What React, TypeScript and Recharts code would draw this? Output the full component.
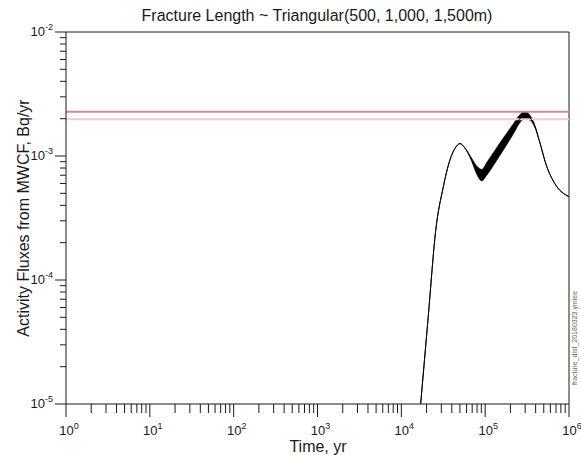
import { ComposedChart, Line, Area, XAxis, YAxis, ReferenceLine } from 'recharts'

// time (yr) and activity flux (Bq/yr)
const times = [17000, 20900, 25700, 31600, 38000, 43600, 50100, 56200, 69200, 79400, 91200, 104700, 125900, 151400, 182000, 218800, 257000, 295100, 342800, 393600, 446700, 537000, 676000, 1000000]
const flux = [1.0e-5, 5.0e-5, 2.5e-4, 5.6e-4, 9.3e-4, 1.15e-3, 1.26e-3, 1.18e-3, 9.3e-4, 7.7e-4, 7.0e-4, 7.9e-4, 9.5e-4, 1.15e-3, 1.38e-3, 1.67e-3, 1.98e-3, 2.14e-3, 2.03e-3, 1.72e-3, 1.3e-3, 8.4e-4, 6.0e-4, 4.7e-4]
// spread of the realisations (thick black band)
const fluxLow = [1.0e-5, 5.0e-5, 2.5e-4, 5.6e-4, 9.3e-4, 1.15e-3, 1.26e-3, 1.18e-3, 9.0e-4, 7.1e-4, 6.3e-4, 7.0e-4, 8.4e-4, 1.02e-3, 1.24e-3, 1.52e-3, 1.84e-3, 2.0e-3, 1.94e-3, 1.68e-3, 1.3e-3, 8.4e-4, 6.0e-4, 4.7e-4]
const fluxHigh = [1.0e-5, 5.0e-5, 2.5e-4, 5.6e-4, 9.3e-4, 1.15e-3, 1.26e-3, 1.18e-3, 9.6e-4, 8.3e-4, 7.8e-4, 8.9e-4, 1.07e-3, 1.29e-3, 1.54e-3, 1.84e-3, 2.14e-3, 2.28e-3, 2.13e-3, 1.76e-3, 1.3e-3, 8.4e-4, 6.0e-4, 4.7e-4]

const limitUpper = 2.27e-3
const limitLower = 1.98e-3

const xDecades = [0, 1, 2, 3, 4, 5, 6]
const yDecades = [-5, -4, -3, -2]
const minorSteps = [2, 3, 4, 5, 6, 7, 8, 9]

const data = times.map((t, i) => ({ t, flux: flux[i], band: [fluxLow[i], fluxHigh[i]] }))

const xTicks = [
  ...xDecades.map((d) => Math.pow(10, d)),
  ...xDecades.slice(0, -1).flatMap((d) => minorSteps.map((m) => m * Math.pow(10, d))),
]
const yTicks = [
  ...yDecades.map((d) => Math.pow(10, d)),
  ...yDecades.slice(0, -1).flatMap((d) => minorSteps.map((m) => m * Math.pow(10, d))),
]

const font = "'Liberation Sans', Arial, sans-serif"
const ink = '#1a1a1a'

const isMajor = (v: number) => {
  const e = Math.log10(v)
  return Math.abs(e - Math.round(e)) < 1e-6
}

function XTick({ x, y, payload }: any) {
  const v = payload.value
  const major = isMajor(v)
  return (
    <g>
      <line x1={x} x2={x} y1={y} y2={y + (major ? 13 : 9)} stroke={ink} strokeWidth={1} />
      {major && (
        <text x={x + 3} y={y + 31} textAnchor="middle" fontSize={13} fill={ink} fontFamily={font}>
          10
          <tspan dy={-6} fontSize={9}>
            {Math.round(Math.log10(v))}
          </tspan>
        </text>
      )}
    </g>
  )
}

function YTick({ x, y, payload }: any) {
  const v = payload.value
  const major = isMajor(v)
  return (
    <g>
      <line x1={x - (major ? 11 : 6)} x2={x} y1={y} y2={y} stroke={ink} strokeWidth={1} />
      {major && (
        <text x={x - 13} y={y + 4} textAnchor="end" fontSize={13} fill={ink} fontFamily={font}>
          10
          <tspan dy={-6} fontSize={9}>
            {Math.round(Math.log10(v))}
          </tspan>
        </text>
      )}
    </g>
  )
}

export default function App() {
  return (
    <div style={{ position: 'absolute', left: 0, top: 0, width: 581, height: 455, background: '#fff' }}>
      <ComposedChart width={581} height={455} data={data} margin={{ top: 32, right: 12, bottom: 0, left: 0 }}>
        <XAxis
          dataKey="t"
          type="number"
          scale="log"
          domain={[1, 1e6]}
          ticks={xTicks}
          interval={0}
          allowDataOverflow
          height={51}
          tickSize={0}
          tickMargin={0}
          tick={(p: any) => <XTick {...p} />}
          axisLine={{ stroke: ink }}
        />
        <YAxis
          type="number"
          scale="log"
          domain={[1e-5, 1e-2]}
          ticks={yTicks}
          interval={0}
          allowDataOverflow
          width={66}
          tickSize={0}
          tickMargin={0}
          tick={(p: any) => <YTick {...p} />}
          axisLine={{ stroke: ink }}
        />
        <ReferenceLine y={1e-2} stroke={ink} />
        <ReferenceLine x={1e6} stroke={ink} />
        <ReferenceLine y={limitUpper} stroke="#c98e95" strokeWidth={2} />
        <ReferenceLine y={limitLower} stroke="#f2cdd0" strokeWidth={2} />
        <Area
          dataKey="band"
          type="monotone"
          fill="#000"
          fillOpacity={1}
          stroke="#000"
          strokeWidth={0.5}
          isAnimationActive={false}
        />
        <Line
          dataKey="flux"
          type="monotone"
          stroke="#000"
          strokeWidth={1}
          dot={false}
          isAnimationActive={false}
        />
      </ComposedChart>
      <svg
        width={581}
        height={455}
        style={{ position: 'absolute', left: 0, top: 0, pointerEvents: 'none' }}
        fontFamily={font}
      >
        <text x={317} y={21} textAnchor="middle" fontSize={16} fill={ink}>
          Fracture Length ~ Triangular(500, 1,000, 1,500m)
        </text>
        <text x={318} y={452} textAnchor="middle" fontSize={16} fill={ink}>
          Time, yr
        </text>
        <text
          x={23}
          y={218}
          textAnchor="middle"
          dominantBaseline="central"
          fontSize={16}
          fill={ink}
          transform="rotate(-90 23 218)"
        >
          Activity Fluxes from MWCF, Bq/yr
        </text>
        <text
          x={577}
          y={338}
          textAnchor="middle"
          fontSize={7}
          fill="#666"
          transform="rotate(-90 577 338)"
        >
          fracture_dist_20180323.ymlee
        </text>
      </svg>
    </div>
  )
}
